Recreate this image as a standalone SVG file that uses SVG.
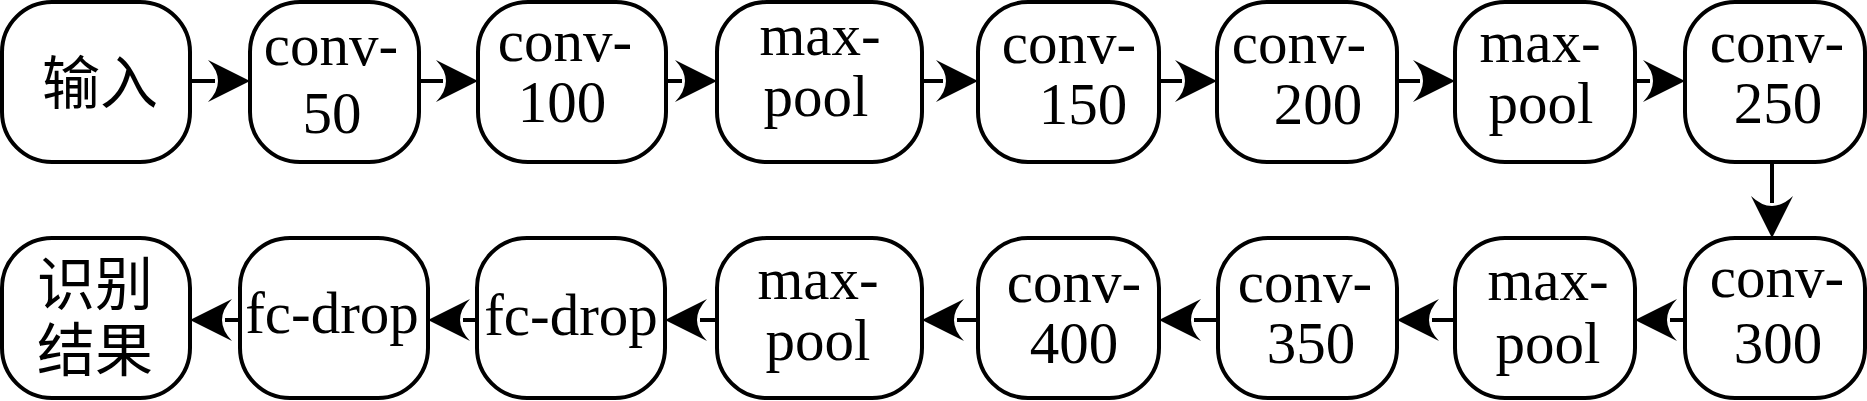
<svg xmlns="http://www.w3.org/2000/svg" width="1867" height="401" viewBox="0 0 1867 401">
<style>
.box{fill:#fff;stroke:#000;stroke-width:4}
.t{font-family:"Liberation Serif","Times New Roman",serif;font-size:59px;fill:#000;text-anchor:middle}
.c{font-family:"Liberation Serif","Noto Sans CJK SC",serif;font-size:58px;fill:#000;text-anchor:middle}
.ln{stroke:#000;stroke-width:4;fill:none}
.hd{fill:#000;stroke:none}
</style>
<defs>
<path id="ah" d="M0,0 L-42,-21 Q-22,0 -42,21 Z"/>
</defs>
<rect width="1867" height="401" fill="#fff"/>
<g id="connectors">
<line class="ln" x1="190" y1="81" x2="215" y2="81"/><use href="#ah" class="hd" transform="translate(250,81)"/>
<line class="ln" x1="419" y1="81" x2="443" y2="81"/><use href="#ah" class="hd" transform="translate(478,81)"/>
<line class="ln" x1="666" y1="81" x2="682" y2="81"/><use href="#ah" class="hd" transform="translate(717,81)"/>
<line class="ln" x1="922" y1="81" x2="943" y2="81"/><use href="#ah" class="hd" transform="translate(978,81)"/>
<line class="ln" x1="1159" y1="81" x2="1182" y2="81"/><use href="#ah" class="hd" transform="translate(1217,81)"/>
<line class="ln" x1="1397" y1="81" x2="1420" y2="81"/><use href="#ah" class="hd" transform="translate(1455,81)"/>
<line class="ln" x1="1635" y1="81" x2="1650" y2="81"/><use href="#ah" class="hd" transform="translate(1685,81)"/>
<line class="ln" x1="1772" y1="162" x2="1772" y2="203"/><use href="#ah" class="hd" transform="translate(1772,238) rotate(90)"/>
<line class="ln" x1="1685" y1="320" x2="1670" y2="320"/><use href="#ah" class="hd" transform="translate(1635,320) rotate(180)"/>
<line class="ln" x1="1455" y1="320" x2="1432" y2="320"/><use href="#ah" class="hd" transform="translate(1397,320) rotate(180)"/>
<line class="ln" x1="1218" y1="320" x2="1194" y2="320"/><use href="#ah" class="hd" transform="translate(1159,320) rotate(180)"/>
<line class="ln" x1="978" y1="320" x2="957" y2="320"/><use href="#ah" class="hd" transform="translate(922,320) rotate(180)"/>
<line class="ln" x1="717" y1="320" x2="700" y2="320"/><use href="#ah" class="hd" transform="translate(665,320) rotate(180)"/>
<line class="ln" x1="477" y1="320" x2="463" y2="320"/><use href="#ah" class="hd" transform="translate(428,320) rotate(180)"/>
<line class="ln" x1="240" y1="320" x2="225" y2="320"/><use href="#ah" class="hd" transform="translate(190,320) rotate(180)"/>
</g>
<g id="n-input"><rect class="box" x="2" y="2" width="188" height="160" rx="50"/><text class="c" x="100" y="104">输入</text></g>
<g id="n-conv50"><rect class="box" x="250" y="2" width="169" height="160" rx="50"/><text class="t"><tspan x="331" y="65">conv-</tspan><tspan x="332" y="133">50</tspan></text></g>
<g id="n-conv100"><rect class="box" x="478" y="2" width="188" height="160" rx="50"/><text class="t"><tspan x="565" y="61">conv-</tspan><tspan x="562" y="122">100</tspan></text></g>
<g id="n-maxpool1"><rect class="box" x="717" y="2" width="205" height="160" rx="50"/><text class="t"><tspan x="820" y="55">max-</tspan><tspan x="816" y="116">pool</tspan></text></g>
<g id="n-conv150"><rect class="box" x="978" y="2" width="181" height="160" rx="50"/><text class="t"><tspan x="1069" y="63">conv-</tspan><tspan x="1083" y="124">150</tspan></text></g>
<g id="n-conv200"><rect class="box" x="1217" y="2" width="180" height="160" rx="50"/><text class="t"><tspan x="1299" y="63">conv-</tspan><tspan x="1318" y="124">200</tspan></text></g>
<g id="n-maxpool2"><rect class="box" x="1455" y="2" width="180" height="160" rx="50"/><text class="t"><tspan x="1540" y="62">max-</tspan><tspan x="1541" y="123">pool</tspan></text></g>
<g id="n-conv250"><rect class="box" x="1685" y="2" width="180" height="160" rx="50"/><text class="t"><tspan x="1777" y="62">conv-</tspan><tspan x="1778" y="123">250</tspan></text></g>
<g id="n-conv300"><rect class="box" x="1685" y="238" width="180" height="160" rx="50"/><text class="t"><tspan x="1777" y="297">conv-</tspan><tspan x="1778" y="363">300</tspan></text></g>
<g id="n-maxpool3"><rect class="box" x="1455" y="238" width="180" height="160" rx="50"/><text class="t"><tspan x="1548" y="300">max-</tspan><tspan x="1548" y="363">pool</tspan></text></g>
<g id="n-conv350"><rect class="box" x="1218" y="238" width="179" height="160" rx="50"/><text class="t"><tspan x="1305" y="302">conv-</tspan><tspan x="1311" y="363">350</tspan></text></g>
<g id="n-conv400"><rect class="box" x="978" y="238" width="181" height="160" rx="50"/><text class="t"><tspan x="1074" y="302">conv-</tspan><tspan x="1074" y="363">400</tspan></text></g>
<g id="n-maxpool4"><rect class="box" x="717" y="238" width="205" height="160" rx="50"/><text class="t"><tspan x="818" y="299">max-</tspan><tspan x="818" y="360">pool</tspan></text></g>
<g id="n-fcdrop1"><rect class="box" x="477" y="238" width="188" height="160" rx="50"/><text class="t" x="571" y="335">fc-drop</text></g>
<g id="n-fcdrop2"><rect class="box" x="240" y="238" width="188" height="160" rx="50"/><text class="t" x="332" y="333">fc-drop</text></g>
<g id="n-result"><rect class="box" x="2" y="238" width="188" height="160" rx="50"/><text class="c"><tspan x="95" y="305">识别</tspan><tspan x="95" y="371">结果</tspan></text></g>
</svg>
